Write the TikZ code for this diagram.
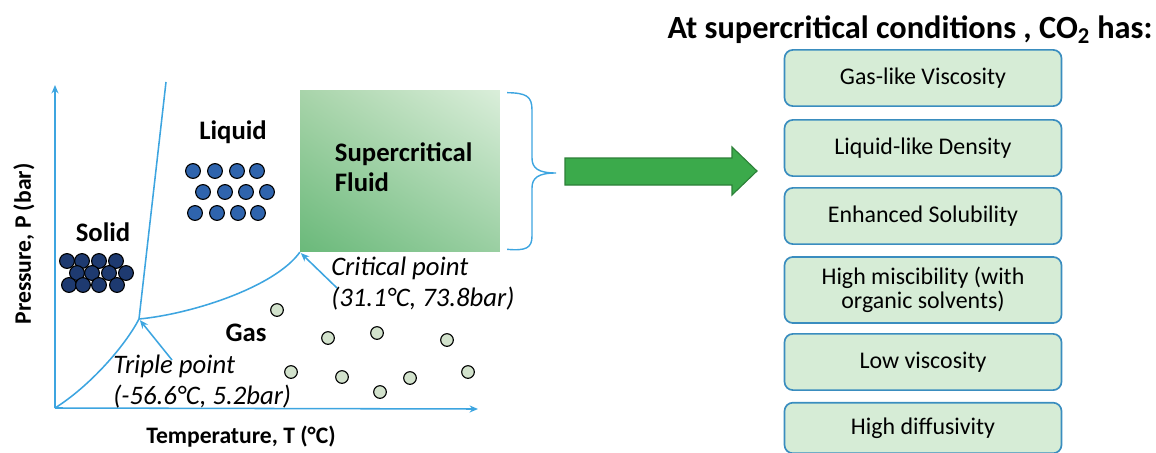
\documentclass[tikz,border=0pt]{standalone}
\usepackage{fontspec}
\setmainfont{Carlito}
\usetikzlibrary{arrows.meta,positioning,shapes,shadings}

\definecolor{lineblue}{HTML}{3DA5E0}
\definecolor{boxfill}{HTML}{D6ECD6}
\definecolor{boxedge}{HTML}{3A8DBF}
\definecolor{arrowgreen}{HTML}{3BAA4B}
\definecolor{liqblue}{HTML}{2F64AD}
\definecolor{solblue}{HTML}{1E3A70}
\definecolor{gasfill}{HTML}{D2E2CC}
\definecolor{scfll}{HTML}{6AB97A}
\definecolor{scful}{HTML}{A8D4AA}
\definecolor{scflr}{HTML}{9ACFA2}
\definecolor{scfur}{HTML}{DAEEDA}

\begin{document}
\begin{tikzpicture}[x=0.025cm,y=-0.025cm,
    phase/.style={font=\fontsize{19}{21.5}\selectfont\bfseries},
    pointlabel/.style={font=\fontsize{19}{22}\selectfont\itshape,align=left,anchor=west,inner sep=0pt},
    prop/.style={draw=boxedge,line width=1.2pt,fill=boxfill,rounded corners=6pt,
      minimum width=197pt,minimum height=40pt,align=center,
      font=\fontsize{17}{17.5}\selectfont},
    bluearrow/.style={draw=lineblue,line width=1.1pt,-{Stealth[length=6pt,width=5pt]}}]
  \useasboundingbox (0,0) rectangle (1156,453);

  % Axes
  \coordinate (O) at (55,408);
  \coordinate (ytop) at (55,85);
  \coordinate (xend) at (478,409);
  \draw[bluearrow] (O) -- (ytop);
  \draw[bluearrow] (O) -- (xend);
  \node[font=\fontsize{16.8}{18}\selectfont\bfseries,rotate=90] (ylab) at (24,244) {Pressure, P (bar)};
  \node[font=\fontsize{16.8}{18}\selectfont\bfseries] (xlab) at (241,437) {Temperature, T (°C)};

  % Supercritical region
  \node[minimum width=142pt,minimum height=115pt,inner sep=0pt,
        lower left=scfll,upper left=scful,lower right=scflr,upper right=scfur] (scf) at (400,171) {};
  \node[phase,align=left,anchor=west] (scftext) at (330,167) {Supercritical\\Fluid};
  \coordinate (cp) at (scf.south west);
  \coordinate (tp) at (139,319);

  % Phase boundaries
  \draw[lineblue,line width=1.1pt] (O) .. controls (90,386) and (125,346) .. (tp);
  \draw[lineblue,line width=1.1pt] (tp) -- (166,82);
  \draw[lineblue,line width=1.1pt] (tp) .. controls (192,314) and (275,287) .. (cp);

  % Point labels
  \node[pointlabel] (tplab) at (113,382) {Triple point\\(-56.6°C, 5.2bar)};
  \node[pointlabel] (cplab) at (331,284) {Critical point\\(31.1°C, 73.8bar)};
  \coordinate (tpfrom) at (172,360);
  \coordinate (cpfrom) at (337,288);
  \draw[bluearrow,shorten >=1pt] (tpfrom) -- (tp);
  \draw[bluearrow,shorten >=1pt] (cpfrom) -- (cp);

  % Phase names
  \node[phase] (solid) at (103,232) {Solid};
  \node[phase] (liquid) at (233,132) {Liquid};
  \node[phase] (gas) at (246,333) {Gas};

  % Solid molecules
  \foreach \x/\y [count=\i] in {67/261,82/261,99/261,116/261,
      77/273,92/273,109/273,126/273,69/285,83/285,99/285,117/285}
    \node[circle,draw=black,line width=0.8pt,fill=solblue,minimum size=10.5pt,inner sep=0pt] (s\i) at (\x,\y) {};

  % Liquid molecules
  \foreach \x/\y [count=\i] in {193/171,215/171,237/171,257/171,
      203/192,225/192,246/192,267/192,195/213,217/213,238/213,258/213}
    \node[circle,draw=black,line width=0.8pt,fill=liqblue,minimum size=10.5pt,inner sep=0pt] (l\i) at (\x,\y) {};

  % Gas molecules
  \foreach \x/\y [count=\i] in {277/310,328/338,377/333,447/340,
      291/372,342/377,380/392,410/378,468/372}
    \node[circle,draw=black,line width=0.8pt,fill=gasfill,minimum size=9pt,inner sep=0pt] (g\i) at (\x,\y) {};

  % Brace
  \coordinate (bt) at ([xshift=5pt,yshift=-2pt]scf.north east);
  \coordinate (bb) at ([xshift=5pt,yshift=2pt]scf.south east);
  \coordinate (btip) at (556,173);
  \draw[lineblue,line width=1pt] (bt) .. controls (526,93) and (532,96) .. (532,110)
    -- (532,158) .. controls (532,168) and (538,173) .. (btip)
    .. controls (538,173) and (532,178) .. (532,188)
    -- (532,236) .. controls (532,248) and (526,251) .. (bb);

  % Green arrow
  \draw[draw=arrowgreen!75!black,line width=0.8pt,fill=arrowgreen]
    (565,158) -- (732,158) -- (732,147) -- (757,171) -- (732,195) -- (732,185) -- (565,185) -- cycle;

  % Properties
  \node[font=\fontsize{23}{26}\selectfont\bfseries] (title) at (910,30) {At supercritical conditions , CO\textsubscript{2} has:};
  \node[prop] (p1) at (923,78) {Gas-like Viscosity};
  \node[prop] (p2) at (923,148) {Liquid-like Density};
  \node[prop] (p3) at (923,216) {Enhanced Solubility};
  \node[prop,minimum height=47pt] (p4) at (923,290) {High miscibility (with\\organic solvents)};
  \node[prop] (p5) at (923,362) {Low viscosity};
  \node[prop,minimum height=36pt] (p6) at (923,428) {High diffusivity};
\end{tikzpicture}
\end{document}
